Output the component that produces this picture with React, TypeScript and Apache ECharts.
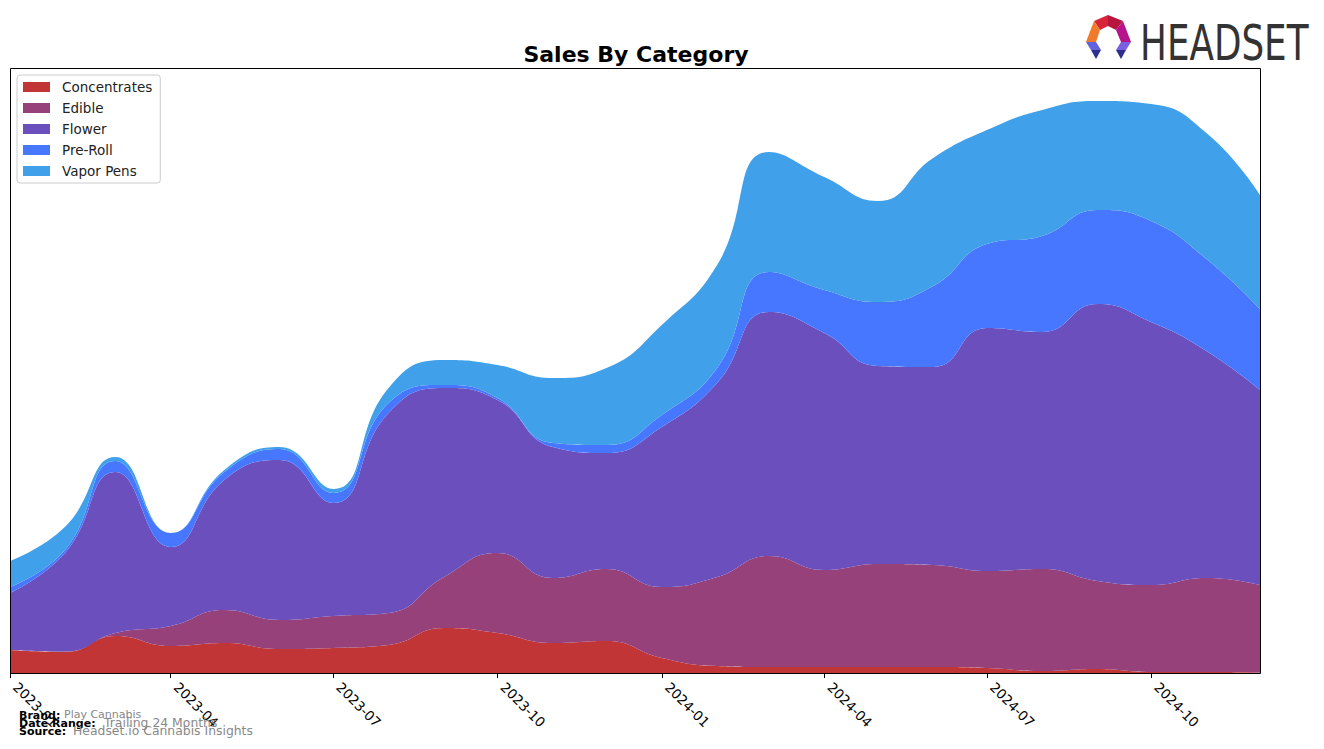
import React, { useEffect, useRef } from "react";
import * as echarts from "echarts";

const months = [
  "2023-01", "2023-02", "2023-03", "2023-04", "2023-05", "2023-06",
  "2023-07", "2023-08", "2023-09", "2023-10", "2023-11", "2023-12",
  "2024-01", "2024-02", "2024-03", "2024-04", "2024-05", "2024-06",
  "2024-07", "2024-08", "2024-09", "2024-10", "2024-11", "2024-12",
];
const tickMonths = ["2023-01", "2023-04", "2023-07", "2023-10", "2024-01", "2024-04", "2024-07", "2024-10"];

const concentrates = [23, 21, 37, 27, 30, 24, 25, 28, 45, 40, 30, 32, 15, 7, 6, 6, 6, 6, 5, 2, 4, 1, 1, 0.5];
const edible = [0, 0.5, 3, 20, 33, 29, 32, 32, 51, 80, 65, 72, 71, 89, 111, 97, 103, 102, 97, 102, 88, 87, 94, 87.5];
const flower = [57, 99, 161, 79, 130, 160, 113, 200, 189, 153, 131, 116, 160, 194, 244, 237, 198, 198, 243, 237, 277, 263, 227, 195];
const preRoll = [6, 3, 11, 14, 8, 11, 10, 10, 3, 2, 4, 8, 12, 15, 40, 43, 64, 81, 84, 96, 94, 101, 92, 81];
const vaporPens = [26, 23, 4, 0, 2, 2, 4, 15, 25, 33, 65, 77, 90, 103, 120, 113, 101, 128, 114, 126, 109, 117, 126, 114];

const seriesNames = ["Concentrates", "Edible", "Flower", "Pre-Roll", "Vapor Pens"];
const seriesColors = ["#C13536", "#96417A", "#6A4FBD", "#4877FF", "#40A0E9"];
const seriesValues = [concentrates, edible, flower, preRoll, vaporPens];

const yMax = 605;
const FONT = "DejaVu Sans";

function ts(m: string): number {
  const [y, mo] = m.split("-").map(Number);
  return Date.UTC(y, mo - 1, 1);
}

function fmt(v: number): string {
  const d = new Date(v);
  return d.getUTCFullYear() + "-" + String(d.getUTCMonth() + 1).padStart(2, "0");
}

export default function App() {
  const ref = useRef<HTMLDivElement>(null);
  useEffect(() => {
    if (!ref.current) return;
    const chart = echarts.init(ref.current, null, { renderer: "svg" });
    const tickVals = tickMonths.map(ts);
    const option: any = {
      animation: false,
      backgroundColor: "#fff",
      title: {
        text: "Sales By Category",
        left: 631,
        top: 38,
        textAlign: "center",
        textStyle: { fontFamily: FONT, fontWeight: "bold", fontSize: 22, color: "#000" },
      },
      legend: {
        left: 17,
        top: 75,
        orient: "vertical",
        itemWidth: 27,
        itemHeight: 10,
        itemGap: 7,
        padding: [5, 8, 5, 6],
        borderColor: "#cccccc",
        borderWidth: 1,
        borderRadius: 3,
        backgroundColor: "#fff",
        icon: "rect",
        data: seriesNames,
        textStyle: { fontFamily: FONT, fontSize: 13.5, color: "#222", lineHeight: 14, padding: [0, 0, 0, 7] },
      },
      grid: { left: 10, right: 64, top: 68, bottom: 76, containLabel: false },
      xAxis: {
        type: "value",
        min: ts(months[0]),
        max: ts(months[months.length - 1]),
        axisLine: { show: false },
        splitLine: { show: false },
        axisTick: { show: true, length: 5, lineStyle: { color: "#000", width: 1 }, customValues: tickVals },
        axisLabel: {
          rotate: -45,
          fontFamily: FONT,
          fontSize: 13.5,
          color: "#000",
          margin: 6,
          padding: [0, 0, 0, 8],
          customValues: tickVals,
          formatter: (v: number) => fmt(v),
        },
      },
      yAxis: {
        type: "value",
        min: 0,
        max: yMax,
        show: false,
        splitLine: { show: false },
      },
      series: seriesNames.map((name, i) => ({
        name,
        type: "line",
        stack: "total",
        smooth: 0.5,
        symbol: "none",
        color: seriesColors[i],
        lineStyle: { width: 0 },
        areaStyle: { color: seriesColors[i], opacity: 1 },
        encode: { x: 1, y: 0 },
        data: months.map((m, j) => [seriesValues[i][j], ts(m)]),
      })),
      graphic: [
        {
          type: "rect",
          z: 100,
          shape: { x: 10.5, y: 68.5, width: 1250, height: 605 },
          style: { fill: "none", stroke: "#000", lineWidth: 1 },
          silent: true,
        },
        { type: "text", left: 19, top: 710, z: 100, style: { text: "Brand:", font: `bold 11px "${FONT}"`, fill: "#000" } },
        { type: "text", left: 64, top: 709, z: 100, style: { text: "Play Cannabis", font: `11px "${FONT}"`, fill: "#888" } },
        { type: "text", left: 19, top: 718, z: 100, style: { text: "Date Range:", font: `bold 11px "${FONT}"`, fill: "#000" } },
        { type: "text", left: 104, top: 716, z: 100, style: { text: "Trailing 24 Months", font: `12.4px "${FONT}"`, fill: "#888" } },
        { type: "text", left: 19, top: 726, z: 100, style: { text: "Source:", font: `bold 11px "${FONT}"`, fill: "#000" } },
        { type: "text", left: 73, top: 724, z: 100, style: { text: "Headset.io Cannabis Insights", font: `12.4px "${FONT}"`, fill: "#888" } },
        { type: "polygon", z: 100, shape: { points: [[1094, 21], [1108, 15], [1108, 26], [1100, 30]] }, style: { fill: "#D9253A" } },
        { type: "polygon", z: 100, shape: { points: [[1108, 15], [1123, 21], [1116, 30], [1108, 26]] }, style: { fill: "#B8163F" } },
        { type: "polygon", z: 100, shape: { points: [[1123, 21], [1131, 42], [1121, 42], [1116, 30]] }, style: { fill: "#B5148A" } },
        { type: "polygon", z: 100, shape: { points: [[1094, 21], [1100, 30], [1096, 42], [1086, 42]] }, style: { fill: "#F07B2A" } },
        { type: "polygon", z: 100, shape: { points: [[1086, 42], [1096, 42], [1101, 50], [1091, 50]] }, style: { fill: "#6262DC" } },
        { type: "polygon", z: 100, shape: { points: [[1091, 50], [1101, 50], [1096, 59]] }, style: { fill: "#2D2E8E" } },
        { type: "polygon", z: 100, shape: { points: [[1131, 42], [1121, 42], [1116, 50], [1126, 50]] }, style: { fill: "#7A5FE0" } },
        { type: "polygon", z: 100, shape: { points: [[1126, 50], [1116, 50], [1121, 59]] }, style: { fill: "#2D2E8E" } },
        {
          type: "text",
          z: 100,
          x: 1140,
          y: 18,
          scaleX: 0.715,
          style: { text: "HEADSET", font: `50px "${FONT}"`, fill: "#333333", textVerticalAlign: "top" },
        },
      ],
    };
    chart.setOption(option);
    return () => chart.dispose();
  }, []);
  return (
    <div
      ref={ref}
      style={{ position: "absolute", left: 0, top: 0, width: 1324, height: 749 }}
    />
  );
}
